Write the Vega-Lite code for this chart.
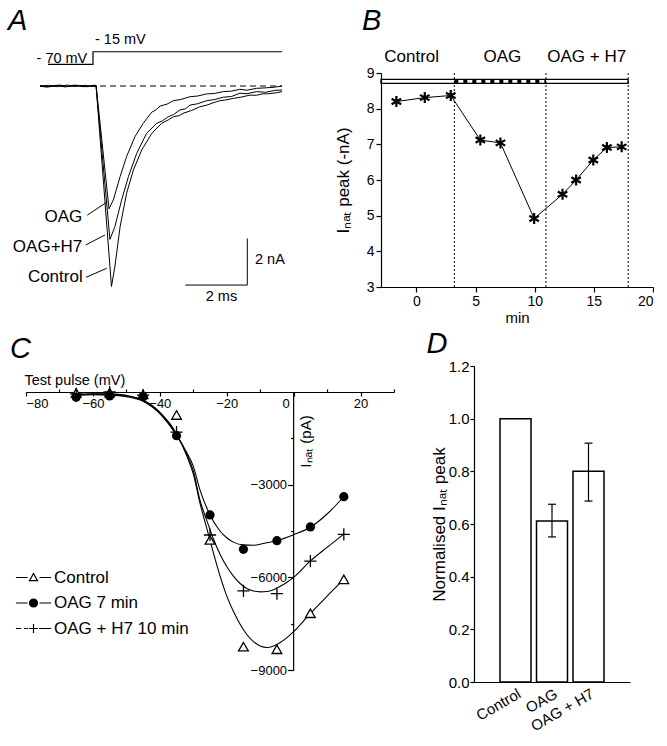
{
  "$schema": "https://vega.github.io/schema/vega-lite/v6.json",
  "padding": 0,
  "background": "white",
  "spacing": 1,
  "resolve": {"scale": {"shape": "independent", "fill": "independent"}, "legend": {"shape": "independent", "fill": "independent"}},
  "config": {
    "font": "Liberation Sans",
    "view": {"stroke": null},
    "axis": {"domainColor": "black", "tickColor": "black", "labelColor": "black", "titleColor": "black", "grid": false, "domainWidth": 1.2, "tickWidth": 1.2, "titleFontWeight": "normal", "labelFontSize": 14, "titleFontSize": 17, "labelFont": "Liberation Sans", "titleFont": "Liberation Sans"},
    "legend": {"labelFont": "Liberation Sans"}
  },
  "vconcat": [
    {
      "bounds": "flush",
      "spacing": 80,
      "hconcat": [
        {
          "width": 275,
          "height": 214,
          "encoding": {
            "x": {"field": "t", "type": "quantitative", "scale": {"domain": [-2.175, 6.754], "nice": false, "zero": false}, "axis": null},
            "y": {"field": "I", "type": "quantitative", "scale": {"domain": [-8.623, 0.558], "nice": false, "zero": false}, "axis": null}
          },
          "layer": [
            {"data": {"values": [{"t": -3.0, "I": 3.65}, {"t": 0, "I": -10.317}]}, "mark": {"type": "point", "filled": true, "size": 1, "opacity": 0, "strokeWidth": 0}},
            {"data": {"values": [{"t": -1.72, "t2": 6.14, "I": 0}]}, "mark": {"type": "rule", "strokeDash": [6, 4], "color": "black", "strokeWidth": 1.2}, "encoding": {"x2": {"field": "t2"}}},
            {"data": {"values": [{"k": 0, "t": -1.46, "I": 0.93}, {"k": 1, "t": 0, "I": 0.93}, {"k": 2, "t": 0, "I": 1.47}, {"k": 3, "t": 6.14, "I": 1.47}]}, "mark": {"type": "line", "color": "black", "strokeWidth": 1.2}, "encoding": {"order": {"field": "k"}}},
            {
              "data": {"values": [
                {"s": "Control", "k": 0, "t": -1.72, "I": 0.0}, {"s": "Control", "k": 1, "t": -1.5, "I": -0.05}, {"s": "Control", "k": 2, "t": -1.2, "I": 0.03}, {"s": "Control", "k": 3, "t": -0.9, "I": -0.04}, {"s": "Control", "k": 4, "t": -0.6, "I": 0.04}, {"s": "Control", "k": 5, "t": -0.3, "I": -0.03}, {"s": "Control", "k": 6, "t": 0.0, "I": 0.03}, {"s": "Control", "k": 7, "t": 0.1, "I": 0.02}, {"s": "Control", "k": 8, "t": 0.6, "I": -8.6}, {"s": "Control", "k": 9, "t": 0.71, "I": -7.76}, {"s": "Control", "k": 10, "t": 0.88, "I": -6.04}, {"s": "Control", "k": 11, "t": 1.09, "I": -4.61}, {"s": "Control", "k": 12, "t": 1.31, "I": -3.61}, {"s": "Control", "k": 13, "t": 1.58, "I": -2.75}, {"s": "Control", "k": 14, "t": 1.91, "I": -2.03}, {"s": "Control", "k": 15, "t": 2.23, "I": -1.6}, {"s": "Control", "k": 16, "t": 2.45, "I": -1.45}, {"s": "Control", "k": 17, "t": 2.61, "I": -1.32}, {"s": "Control", "k": 18, "t": 2.8, "I": -1.27}, {"s": "Control", "k": 19, "t": 2.93, "I": -1.17}, {"s": "Control", "k": 20, "t": 3.2, "I": -1.05}, {"s": "Control", "k": 21, "t": 3.47, "I": -0.89}, {"s": "Control", "k": 22, "t": 3.7, "I": -0.82}, {"s": "Control", "k": 23, "t": 3.9, "I": -0.72}, {"s": "Control", "k": 24, "t": 4.12, "I": -0.63}, {"s": "Control", "k": 25, "t": 4.3, "I": -0.6}, {"s": "Control", "k": 26, "t": 4.56, "I": -0.53}, {"s": "Control", "k": 27, "t": 4.8, "I": -0.48}, {"s": "Control", "k": 28, "t": 5.1, "I": -0.39}, {"s": "Control", "k": 29, "t": 5.3, "I": -0.4}, {"s": "Control", "k": 30, "t": 5.49, "I": -0.34}, {"s": "Control", "k": 31, "t": 5.7, "I": -0.33}, {"s": "Control", "k": 32, "t": 5.96, "I": -0.29}, {"s": "Control", "k": 33, "t": 6.14, "I": -0.24},
                {"s": "H7", "k": 0, "t": -1.72, "I": -0.02}, {"s": "H7", "k": 1, "t": -1.45, "I": 0.03}, {"s": "H7", "k": 2, "t": -1.15, "I": -0.03}, {"s": "H7", "k": 3, "t": -0.85, "I": 0.04}, {"s": "H7", "k": 4, "t": -0.55, "I": -0.02}, {"s": "H7", "k": 5, "t": -0.25, "I": 0.03}, {"s": "H7", "k": 6, "t": 0.0, "I": -0.02}, {"s": "H7", "k": 7, "t": 0.1, "I": 0.0}, {"s": "H7", "k": 8, "t": 0.55, "I": -6.58}, {"s": "H7", "k": 9, "t": 0.71, "I": -6.04}, {"s": "H7", "k": 10, "t": 0.93, "I": -4.89}, {"s": "H7", "k": 11, "t": 1.15, "I": -3.89}, {"s": "H7", "k": 12, "t": 1.42, "I": -2.89}, {"s": "H7", "k": 13, "t": 1.74, "I": -2.03}, {"s": "H7", "k": 14, "t": 2.07, "I": -1.6}, {"s": "H7", "k": 15, "t": 2.25, "I": -1.5}, {"s": "H7", "k": 16, "t": 2.44, "I": -1.32}, {"s": "H7", "k": 17, "t": 2.62, "I": -1.22}, {"s": "H7", "k": 18, "t": 2.82, "I": -1.03}, {"s": "H7", "k": 19, "t": 3.0, "I": -0.98}, {"s": "H7", "k": 20, "t": 3.15, "I": -0.82}, {"s": "H7", "k": 21, "t": 3.4, "I": -0.76}, {"s": "H7", "k": 22, "t": 3.69, "I": -0.63}, {"s": "H7", "k": 23, "t": 3.95, "I": -0.58}, {"s": "H7", "k": 24, "t": 4.23, "I": -0.48}, {"s": "H7", "k": 25, "t": 4.5, "I": -0.45}, {"s": "H7", "k": 26, "t": 4.77, "I": -0.31}, {"s": "H7", "k": 27, "t": 5.0, "I": -0.33}, {"s": "H7", "k": 28, "t": 5.31, "I": -0.24}, {"s": "H7", "k": 29, "t": 5.6, "I": -0.27}, {"s": "H7", "k": 30, "t": 5.9, "I": -0.19}, {"s": "H7", "k": 31, "t": 6.14, "I": -0.17},
                {"s": "OAG", "k": 0, "t": -1.72, "I": 0.02}, {"s": "OAG", "k": 1, "t": -1.4, "I": -0.03}, {"s": "OAG", "k": 2, "t": -1.1, "I": 0.04}, {"s": "OAG", "k": 3, "t": -0.8, "I": -0.02}, {"s": "OAG", "k": 4, "t": -0.5, "I": 0.03}, {"s": "OAG", "k": 5, "t": -0.2, "I": -0.03}, {"s": "OAG", "k": 6, "t": 0.0, "I": 0.02}, {"s": "OAG", "k": 7, "t": 0.1, "I": 0.03}, {"s": "OAG", "k": 8, "t": 0.52, "I": -5.27}, {"s": "OAG", "k": 9, "t": 0.66, "I": -4.89}, {"s": "OAG", "k": 10, "t": 0.88, "I": -3.89}, {"s": "OAG", "k": 11, "t": 1.09, "I": -3.03}, {"s": "OAG", "k": 12, "t": 1.36, "I": -2.18}, {"s": "OAG", "k": 13, "t": 1.63, "I": -1.6}, {"s": "OAG", "k": 14, "t": 1.91, "I": -1.12}, {"s": "OAG", "k": 15, "t": 2.05, "I": -1.02}, {"s": "OAG", "k": 16, "t": 2.18, "I": -0.86}, {"s": "OAG", "k": 17, "t": 2.4, "I": -0.78}, {"s": "OAG", "k": 18, "t": 2.61, "I": -0.63}, {"s": "OAG", "k": 19, "t": 2.85, "I": -0.58}, {"s": "OAG", "k": 20, "t": 3.15, "I": -0.46}, {"s": "OAG", "k": 21, "t": 3.4, "I": -0.43}, {"s": "OAG", "k": 22, "t": 3.69, "I": -0.34}, {"s": "OAG", "k": 23, "t": 3.95, "I": -0.32}, {"s": "OAG", "k": 24, "t": 4.23, "I": -0.24}, {"s": "OAG", "k": 25, "t": 4.5, "I": -0.22}, {"s": "OAG", "k": 26, "t": 4.77, "I": -0.14}, {"s": "OAG", "k": 27, "t": 5.0, "I": -0.18}, {"s": "OAG", "k": 28, "t": 5.31, "I": -0.1}, {"s": "OAG", "k": 29, "t": 5.6, "I": -0.08}, {"s": "OAG", "k": 30, "t": 5.9, "I": -0.05}, {"s": "OAG", "k": 31, "t": 6.14, "I": 0.0}
              ]},
              "mark": {"type": "line", "color": "black", "strokeWidth": 1},
              "encoding": {"detail": {"field": "s"}, "order": {"field": "k"}}
            },
            {"data": {"values": [
                {"t": -0.185, "I": -5.54, "t2": 0.464, "I2": -4.97},
                {"t": -0.237, "I": -6.82, "t2": 0.39, "I2": -6.39},
                {"t": -0.227, "I": -8.21, "t2": 0.445, "I2": -7.82},
                {"t": 5.01, "I": -6.54, "t2": 5.01, "I2": -8.54},
                {"t": 3.0, "I": -8.54, "t2": 5.01, "I2": -8.54}
              ]},
              "mark": {"type": "rule", "color": "black", "strokeWidth": 1},
              "encoding": {"x2": {"field": "t2"}, "y2": {"field": "I2"}}
            },
            {"data": {"values": [
                {"t": -0.347, "I": -5.61, "label": "OAG"},
                {"t": -0.347, "I": -6.9, "label": "OAG+H7"},
                {"t": -0.334, "I": -8.18, "label": "Control"}
              ]},
              "mark": {"type": "text", "align": "right", "baseline": "middle", "fontSize": 17, "color": "black"},
              "encoding": {"text": {"field": "label"}}
            },
            {"data": {"values": [{"t": 5.26, "I": -7.47, "label": "2 nA"}]}, "mark": {"type": "text", "align": "left", "baseline": "middle", "fontSize": 14.5, "color": "black"}, "encoding": {"text": {"field": "label"}}},
            {"data": {"values": [{"t": 4.17, "I": -9.04, "label": "2 ms"}]}, "mark": {"type": "text", "align": "center", "baseline": "middle", "fontSize": 14.5, "color": "black"}, "encoding": {"text": {"field": "label"}}},
            {"data": {"values": [{"t": -0.185, "I": 0.966, "label": "- 70 mV"}]}, "mark": {"type": "text", "align": "right", "baseline": "alphabetic", "fontSize": 14.5, "color": "black"}, "encoding": {"text": {"field": "label"}}},
            {"data": {"values": [{"t": 0.065, "I": 1.79, "label": "- 15 mV"}]}, "mark": {"type": "text", "align": "left", "baseline": "alphabetic", "fontSize": 14.5, "color": "black"}, "encoding": {"text": {"field": "label"}}},
            {"data": {"values": [{"t": -2.759, "I": 2.403, "label": "A"}]}, "mark": {"type": "text", "align": "left", "baseline": "alphabetic", "fontSize": 29, "fontStyle": "italic", "color": "black"}, "encoding": {"text": {"field": "label"}}}
          ]
        },
        {
          "width": 272,
          "height": 214,
          "encoding": {
            "x": {"field": "t", "type": "quantitative", "scale": {"domain": [-3, 20], "nice": false, "zero": false}, "axis": {"values": [0, 5, 10, 15, 20], "title": "min", "tickSize": 5, "labelFontSize": 14, "titleFontSize": 15, "titlePadding": 2}},
            "y": {"field": "y", "type": "quantitative", "scale": {"domain": [3, 9], "nice": false, "zero": false}, "axis": {"values": [3, 3.5, 4, 4.5, 5, 5.5, 6, 6.5, 7, 7.5, 8, 8.5, 9], "format": "d", "labelExpr": "datum.value % 1 === 0 ? datum.label : ''", "tickSize": {"condition": {"test": "datum.value % 1 === 0", "value": 5}, "value": 3}, "title": "Iₙₐₜ peak (-nA)", "labelFontSize": 14, "titleFontSize": 17, "titlePadding": 14}}
          },
          "layer": [
            {"data": {"values": [{"t": 3.2, "y": 3, "y2": 9}, {"t": 10.95, "y": 3, "y2": 9}, {"t": 17.9, "y": 3, "y2": 9}]}, "mark": {"type": "rule", "color": "black", "strokeWidth": 1, "strokeDash": [2, 2]}, "encoding": {"y2": {"field": "y2"}}},
            {"data": {"values": [{"t": -3, "t2": 17.9, "y": 8.71, "y2": 8.82}]}, "mark": {"type": "rect", "fill": "white", "fillOpacity": 0, "stroke": "black", "strokeWidth": 1.3}, "encoding": {"x2": {"field": "t2"}, "y2": {"field": "y2"}}},
            {"data": {"values": [{"t": 3.2, "t2": 10.95, "y": 8.765}]}, "mark": {"type": "rule", "color": "black", "strokeWidth": 3, "strokeDash": [4, 5]}, "encoding": {"x2": {"field": "t2"}}},
            {"data": {"values": [
                {"t": -1.7, "y": 8.2}, {"t": 0.7, "y": 8.31}, {"t": 2.9, "y": 8.37}, {"t": 5.4, "y": 7.12}, {"t": 7.1, "y": 7.04}, {"t": 9.95, "y": 4.92}, {"t": 12.35, "y": 5.6}, {"t": 13.5, "y": 6.0}, {"t": 14.95, "y": 6.56}, {"t": 16.1, "y": 6.91}, {"t": 17.35, "y": 6.93}
              ]},
              "layer": [
                {"mark": {"type": "line", "color": "black", "strokeWidth": 1}},
                {"mark": {"type": "point", "shape": "M0,-1L0,1M-0.866,-0.5L0.866,0.5M-0.866,0.5L0.866,-0.5", "size": 121, "filled": false, "stroke": "black", "strokeWidth": 2.2, "opacity": 1}}
              ]
            },
            {"data": {"values": [{"t": -0.41, "y": 9.45, "label": "Control"}, {"t": 7.26, "y": 9.45, "label": "OAG"}, {"t": 14.39, "y": 9.45, "label": "OAG + H7"}]}, "mark": {"type": "text", "align": "center", "baseline": "middle", "fontSize": 17, "color": "black"}, "encoding": {"text": {"field": "label"}}},
            {"data": {"values": [{"t": -4.607, "y": 10.205, "label": "B"}]}, "mark": {"type": "text", "align": "left", "baseline": "alphabetic", "fontSize": 29, "fontStyle": "italic", "color": "black"}, "encoding": {"text": {"field": "label"}}}
          ]
        }
      ]
    },
    {
      "bounds": "flush",
      "spacing": 80,
      "resolve": {"scale": {"shape": "independent", "fill": "independent"}, "legend": {"shape": "independent", "fill": "independent"}},
      "hconcat": [
        {
          "width": 368,
          "height": 304,
          "encoding": {
            "x": {"field": "v", "type": "quantitative", "scale": {"domain": [-80, 30], "nice": false, "zero": false},
              "axis": {"orient": "bottom", "offset": -278, "values": [-80, -70, -60, -50, -40, -30, -20, -10, 0, 10, 20, 30], "labelExpr": "datum.value % 20 === 0 ? datum.label : ''", "tickSize": {"condition": {"test": "datum.value % 20 === 0", "value": 4}, "value": -3}, "labelOffset": {"condition": {"test": "datum.value === 0", "value": -8}, "value": 0}, "labelFontSize": 13, "labelPadding": 1, "title": "Test pulse (mV)", "titleFontSize": 14.5, "titleAlign": "left", "titleBaseline": "middle", "titleX": -2, "titleY": -12}},
            "y": {"field": "i", "type": "quantitative", "scale": {"domain": [-9000, 841.7], "nice": false, "zero": false},
              "axis": {"orient": "left", "offset": -267.6, "domain": false, "values": [-9000, -7500, -6000, -4500, -3000, -1500], "labelExpr": "datum.value % 3000 === 0 ? datum.label : ''", "format": "d", "tickSize": {"condition": {"test": "datum.value % 3000 === 0", "value": 6}, "value": 3}, "labelFontSize": 13, "labelPadding": 1, "title": "Iₙₐₜ (pA)", "titleFontSize": 15, "titleAngle": 270, "titleAlign": "center", "titleBaseline": "middle", "titleX": 12, "titleY": 75}}
          },
          "layer": [
            {"data": {"values": [{"v": 0, "i": 2055.7}]}, "mark": {"type": "point", "filled": true, "size": 1, "opacity": 0, "strokeWidth": 0}},
            {"data": {"values": [{"v": 0, "i": 0, "i2": -9000}]}, "mark": {"type": "rule", "color": "black", "strokeWidth": 1.2}, "encoding": {"y2": {"field": "i2"}}},
            {
              "data": {"values": [
                {"s": "Control", "v": -65, "i": -80}, {"s": "Control", "v": -60, "i": -60}, {"s": "Control", "v": -55, "i": -60}, {"s": "Control", "v": -50, "i": -110}, {"s": "Control", "v": -45, "i": -260}, {"s": "Control", "v": -40, "i": -650}, {"s": "Control", "v": -35, "i": -1350}, {"s": "Control", "v": -32, "i": -2050}, {"s": "Control", "v": -30, "i": -2650}, {"s": "Control", "v": -28, "i": -3600}, {"s": "Control", "v": -26, "i": -4400}, {"s": "Control", "v": -25, "i": -4800}, {"s": "Control", "v": -24, "i": -5200}, {"s": "Control", "v": -22, "i": -5950}, {"s": "Control", "v": -20, "i": -6600}, {"s": "Control", "v": -18, "i": -7100}, {"s": "Control", "v": -16, "i": -7520}, {"s": "Control", "v": -14, "i": -7850}, {"s": "Control", "v": -12, "i": -8080}, {"s": "Control", "v": -10, "i": -8220}, {"s": "Control", "v": -8, "i": -8270}, {"s": "Control", "v": -6, "i": -8220}, {"s": "Control", "v": -4, "i": -8110}, {"s": "Control", "v": -2, "i": -7950}, {"s": "Control", "v": 0, "i": -7760}, {"s": "Control", "v": 5, "i": -7170}, {"s": "Control", "v": 10, "i": -6610}, {"s": "Control", "v": 15, "i": -6060},
                {"s": "OAG", "v": -65, "i": -110}, {"s": "OAG", "v": -60, "i": -90}, {"s": "OAG", "v": -55, "i": -100}, {"s": "OAG", "v": -50, "i": -150}, {"s": "OAG", "v": -45, "i": -300}, {"s": "OAG", "v": -40, "i": -700}, {"s": "OAG", "v": -35, "i": -1400}, {"s": "OAG", "v": -32, "i": -1950}, {"s": "OAG", "v": -30, "i": -2400}, {"s": "OAG", "v": -28, "i": -3170}, {"s": "OAG", "v": -25, "i": -3980}, {"s": "OAG", "v": -22, "i": -4500}, {"s": "OAG", "v": -20, "i": -4720}, {"s": "OAG", "v": -18, "i": -4860}, {"s": "OAG", "v": -15, "i": -4950}, {"s": "OAG", "v": -12, "i": -4960}, {"s": "OAG", "v": -10, "i": -4930}, {"s": "OAG", "v": -8, "i": -4880}, {"s": "OAG", "v": -5, "i": -4810}, {"s": "OAG", "v": 0, "i": -4620}, {"s": "OAG", "v": 5, "i": -4380}, {"s": "OAG", "v": 10, "i": -3950}, {"s": "OAG", "v": 15, "i": -3390},
                {"s": "H7", "v": -65, "i": -90}, {"s": "H7", "v": -60, "i": -70}, {"s": "H7", "v": -55, "i": -70}, {"s": "H7", "v": -50, "i": -120}, {"s": "H7", "v": -45, "i": -280}, {"s": "H7", "v": -40, "i": -680}, {"s": "H7", "v": -35, "i": -1380}, {"s": "H7", "v": -32, "i": -2000}, {"s": "H7", "v": -30, "i": -2550}, {"s": "H7", "v": -28, "i": -3500}, {"s": "H7", "v": -26, "i": -4150}, {"s": "H7", "v": -25, "i": -4450}, {"s": "H7", "v": -24, "i": -4750}, {"s": "H7", "v": -22, "i": -5250}, {"s": "H7", "v": -20, "i": -5650}, {"s": "H7", "v": -18, "i": -5960}, {"s": "H7", "v": -16, "i": -6200}, {"s": "H7", "v": -14, "i": -6360}, {"s": "H7", "v": -12, "i": -6440}, {"s": "H7", "v": -10, "i": -6470}, {"s": "H7", "v": -8, "i": -6460}, {"s": "H7", "v": -6, "i": -6400}, {"s": "H7", "v": -4, "i": -6290}, {"s": "H7", "v": -2, "i": -6160}, {"s": "H7", "v": 0, "i": -6000}, {"s": "H7", "v": 5, "i": -5470}, {"s": "H7", "v": 10, "i": -5030}, {"s": "H7", "v": 15, "i": -4600}
              ]},
              "mark": {"type": "line", "color": "black", "strokeWidth": 1.1, "interpolate": "monotone"},
              "encoding": {"detail": {"field": "s"}}
            },
            {"data": {"values": [{"v": -65, "i": -30}, {"v": -55, "i": -20}, {"v": -45, "i": -80}, {"v": -35, "i": -745}, {"v": -25, "i": -4790}, {"v": -15, "i": -8244}, {"v": -5, "i": -8330}, {"v": 5, "i": -7164}, {"v": 15, "i": -6064}]}, "mark": {"type": "point", "shape": "triangle-up", "size": 95, "filled": true, "fill": "white", "stroke": "black", "strokeWidth": 1.3, "opacity": 1}},
            {"data": {"values": [{"v": -65, "i": -172}, {"v": -55, "i": -130}, {"v": -45, "i": -150}, {"v": -35, "i": -1414}, {"v": -25, "i": -3980}, {"v": -15, "i": -5092}, {"v": -5, "i": -4813}, {"v": 5, "i": -4370}, {"v": 15, "i": -3388}]}, "mark": {"type": "point", "shape": "circle", "size": 85, "filled": true, "color": "black", "opacity": 1}},
            {"data": {"values": [{"v": -65, "i": -60}, {"v": -55, "i": 0}, {"v": -45, "i": -100}, {"v": -35, "i": -1300}, {"v": -25, "i": -4629}, {"v": -15, "i": -6440}, {"v": -5, "i": -6530}, {"v": 5, "i": -5475}, {"v": 15, "i": -4607}]}, "mark": {"type": "point", "shape": "M-1,0L1,0M0,-1L0,1", "size": 150, "filled": false, "stroke": "black", "strokeWidth": 1.3, "opacity": 1}},
            {
              "data": {"values": [{"v": -70, "i": -100, "s": "Control"}, {"v": -70, "i": -100, "s": "OAG 7 min"}, {"v": -70, "i": -100, "s": "OAG + H7 10 min"}]},
              "mark": {"type": "point", "filled": true, "strokeWidth": 1.2, "opacity": 0},
              "encoding": {
                "shape": {"field": "s", "type": "nominal", "scale": {"domain": ["Control", "OAG 7 min", "OAG + H7 10 min"], "range": ["M-2.2,0H-0.75M0.75,0H2.2M0,-0.5L0.5,0.4L-0.5,0.4Z", "M-2.2,0H-0.75M0.75,0H2.2M0.5,0A0.5,0.5 0 1,1 -0.5,0A0.5,0.5 0 1,1 0.5,0Z", "M-2.2,0H-1.55M-1.2,0H-0.7M0.7,0H2.2M-0.55,0H0.55M0,-0.55V0.55"]},
                  "legend": {"title": null, "orient": "none", "legendX": -1.5, "legendY": 202.5, "symbolSize": 256, "labelFontSize": 17, "labelOffset": 11.5, "rowPadding": 8.5, "labelColor": "black", "labelOverlap": false, "encode": {"symbols": {"update": {"stroke": {"value": "black"}, "strokeWidth": {"value": 1.2}, "opacity": {"value": 1}}}}}},
                "fill": {"field": "s", "type": "nominal", "scale": {"domain": ["Control", "OAG 7 min", "OAG + H7 10 min"], "range": ["white", "black", "white"]},
                  "legend": {"title": null, "orient": "none", "legendX": -1.5, "legendY": 202.5, "symbolSize": 256, "labelFontSize": 17, "labelOffset": 11.5, "rowPadding": 8.5, "labelColor": "black", "labelOverlap": false, "encode": {"symbols": {"update": {"stroke": {"value": "black"}, "strokeWidth": {"value": 1.2}, "opacity": {"value": 1}}}}}}
              }
            },
            {"data": {"values": [{"v": -84.78, "i": 1100, "label": "C"}]}, "mark": {"type": "text", "align": "left", "baseline": "alphabetic", "fontSize": 29, "fontStyle": "italic", "color": "black"}, "encoding": {"text": {"field": "label"}}}
          ]
        },
        {
          "width": 156,
          "height": 316,
          "layer": [
            {
              "data": {"values": [{"c": "Control", "p": 1, "v": 1.0}, {"c": "OAG", "p": 2, "v": 0.611}, {"c": "OAG + H7", "p": 3, "v": 0.8}]},
              "mark": {"type": "bar", "width": 31, "fill": "white", "stroke": "black", "strokeWidth": 1.5},
              "encoding": {
                "x": {"field": "p", "type": "quantitative", "scale": {"domain": [0, 4], "nice": false, "zero": false}, "axis": {"values": [1, 2, 3], "labelExpr": "datum.value === 1 ? 'Control' : datum.value === 2 ? 'OAG' : 'OAG + H7'", "labelAngle": -30, "labelFontSize": 15, "labelOverlap": false, "tickSize": 0, "labelPadding": 4, "title": null}},
                "y": {"field": "v", "type": "quantitative", "scale": {"domain": [0, 1.2], "nice": false}, "axis": {"values": [0, 0.2, 0.4, 0.6, 0.8, 1.0, 1.2], "format": ".1f", "tickSize": 4, "labelPadding": 1, "labelFontSize": 15, "title": "Normalised Iₙₐₜ peak", "titleFontSize": 17, "titlePadding": 0}}
              }
            },
            {
              "data": {"values": [{"p": 2, "lo": 0.551, "hi": 0.675}, {"p": 3, "lo": 0.687, "hi": 0.907}]},
              "layer": [
                {"mark": {"type": "rule", "color": "black", "strokeWidth": 1.2}, "encoding": {"x": {"field": "p", "type": "quantitative"}, "y": {"field": "lo", "type": "quantitative"}, "y2": {"field": "hi"}}},
                {"mark": {"type": "tick", "orient": "horizontal", "size": 8, "thickness": 1.2, "color": "black", "opacity": 1}, "encoding": {"x": {"field": "p", "type": "quantitative"}, "y": {"field": "lo", "type": "quantitative"}}},
                {"mark": {"type": "tick", "orient": "horizontal", "size": 8, "thickness": 1.2, "color": "black", "opacity": 1}, "encoding": {"x": {"field": "p", "type": "quantitative"}, "y": {"field": "hi", "type": "quantitative"}}}
              ]
            },
            {"data": {"values": [{"p": -1.436, "v": 1.249, "label": "D"}]}, "mark": {"type": "text", "align": "left", "baseline": "alphabetic", "fontSize": 29, "fontStyle": "italic", "color": "black"}, "encoding": {"x": {"field": "p", "type": "quantitative"}, "y": {"field": "v", "type": "quantitative"}, "text": {"field": "label"}}}
          ]
        }
      ]
    }
  ]
}
